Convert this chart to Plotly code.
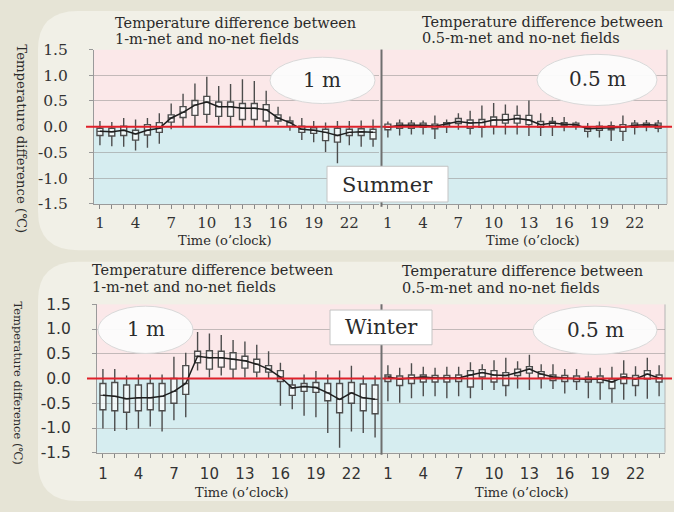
import plotly.graph_objects as go

W, H = 674, 512
hours = list(range(1, 25))
label_hours = [1, 4, 7, 10, 13, 16, 19, 22]
x_tick_text = [str(h) if h in label_hours else "" for h in hours]
y_tick_vals = [-1.5, -1.0, -0.5, 0.0, 0.5, 1.0, 1.5]
y_tick_text = ["-1.5", "-1.0", "-0.5", "0.0", "0.5", "1.0", "1.5"]

# Summer, 1-m net minus no-net
s1_high = [0.11, 0.09, 0.17, 0.14, 0.17, 0.26, 0.45, 0.64, 0.84, 0.97, 0.79, 0.83,
           0.92, 0.89, 0.70, 0.39, 0.20, 0.17, 0.11, 0.08, 0.11, 0.11, 0.12, 0.14]
s1_q3 = [-0.03, -0.03, 0.01, -0.07, 0.04, 0.08, 0.23, 0.39, 0.51, 0.59, 0.48, 0.48,
         0.45, 0.45, 0.43, 0.23, 0.11, 0.01, -0.02, -0.05, -0.03, -0.05, -0.04, -0.05]
s1_med = [-0.09, -0.10, -0.07, -0.14, -0.07, -0.03, 0.17, 0.28, 0.42, 0.48, 0.39, 0.39,
          0.36, 0.36, 0.33, 0.17, 0.08, -0.05, -0.07, -0.11, -0.17, -0.11, -0.10, -0.11]
s1_q1 = [-0.17, -0.18, -0.17, -0.26, -0.16, -0.11, 0.09, 0.18, 0.22, 0.24, 0.20, 0.20,
         0.14, 0.14, 0.11, 0.11, 0.01, -0.11, -0.13, -0.27, -0.30, -0.17, -0.17, -0.24]
s1_low = [-0.36, -0.38, -0.39, -0.46, -0.41, -0.33, -0.05, 0.01, 0.00, 0.07, 0.04, -0.02,
          0.01, 0.00, 0.00, 0.04, -0.08, -0.26, -0.30, -0.49, -0.71, -0.36, -0.39, -0.39]

# Summer, 0.5-m net minus no-net
s05_high = [0.10, 0.14, 0.13, 0.12, 0.22, 0.14, 0.26, 0.31, 0.41, 0.46, 0.43, 0.41,
            0.51, 0.26, 0.19, 0.19, 0.10, 0.07, 0.10, 0.10, 0.22, 0.13, 0.13, 0.13]
s05_q3 = [0.05, 0.07, 0.07, 0.07, 0.05, 0.08, 0.16, 0.13, 0.14, 0.19, 0.24, 0.22,
          0.22, 0.10, 0.10, 0.08, 0.07, -0.01, 0.01, 0.02, 0.04, 0.07, 0.07, 0.07]
s05_med = [-0.01, 0.03, 0.03, 0.03, 0.01, 0.05, 0.10, 0.07, 0.08, 0.13, 0.13, 0.16,
           0.13, 0.04, 0.07, 0.05, 0.04, -0.04, -0.03, -0.03, -0.01, 0.03, 0.04, 0.03]
s05_q1 = [-0.06, -0.03, -0.03, -0.01, -0.04, 0.01, 0.06, -0.03, -0.01, 0.01, 0.07, 0.07,
          0.04, -0.01, 0.01, 0.02, 0.01, -0.09, -0.07, -0.06, -0.09, -0.01, 0.01, -0.03]
s05_low = [-0.21, -0.17, -0.15, -0.15, -0.24, -0.12, -0.06, -0.15, -0.21, -0.15, -0.15, -0.15,
           -0.18, -0.18, -0.18, -0.09, -0.06, -0.21, -0.21, -0.28, -0.28, -0.15, -0.09, -0.11]

# Winter, 1-m net minus no-net
w1_high = [0.19, 0.19, 0.06, 0.08, 0.08, 0.08, 0.44, 0.52, 0.94, 0.91, 0.88, 0.78,
           0.75, 0.68, 0.55, 0.32, 0.00, 0.08, 0.15, 0.08, 0.16, 0.26, 0.06, 0.06]
w1_q3 = [-0.10, -0.08, -0.13, -0.13, -0.10, -0.10, 0.00, 0.26, 0.55, 0.56, 0.55, 0.52,
         0.45, 0.39, 0.26, 0.16, -0.13, -0.10, -0.08, -0.10, -0.10, -0.08, -0.11, -0.13]
w1_med = [-0.34, -0.36, -0.41, -0.39, -0.39, -0.36, -0.26, -0.10, 0.45, 0.42, 0.42, 0.39,
          0.36, 0.29, 0.19, 0.03, -0.19, -0.16, -0.18, -0.29, -0.42, -0.29, -0.39, -0.42]
w1_q1 = [-0.63, -0.65, -0.68, -0.65, -0.63, -0.65, -0.50, -0.32, 0.32, 0.19, 0.23, 0.19,
         0.21, 0.13, 0.13, -0.06, -0.34, -0.26, -0.28, -0.45, -0.69, -0.50, -0.65, -0.71]
w1_low = [-1.01, -1.06, -1.04, -1.01, -0.97, -1.07, -0.84, -0.78, 0.16, 0.02, 0.06, 0.00,
          0.02, 0.02, 0.00, -0.55, -0.62, -0.75, -0.78, -1.10, -1.40, -1.07, -1.10, -1.19]

# Winter, 0.5-m net minus no-net
w05_high = [0.27, 0.22, 0.31, 0.24, 0.22, 0.24, 0.24, 0.33, 0.29, 0.37, 0.42, 0.35,
            0.48, 0.29, 0.29, 0.19, 0.19, 0.14, 0.22, 0.24, 0.37, 0.25, 0.42, 0.27]
w05_q3 = [0.07, 0.05, 0.07, 0.07, 0.06, 0.06, 0.07, 0.16, 0.18, 0.16, 0.12, 0.19,
          0.24, 0.14, 0.07, 0.06, 0.05, 0.03, 0.05, -0.01, 0.09, 0.06, 0.16, 0.07]
w05_med = [0.03, -0.01, 0.01, 0.03, 0.01, 0.01, 0.01, 0.07, 0.12, 0.07, 0.06, 0.12,
           0.19, 0.09, 0.03, 0.01, -0.01, -0.02, -0.01, -0.07, 0.03, -0.01, 0.09, 0.01]
w05_q1 = [-0.06, -0.14, -0.10, -0.07, -0.07, -0.07, -0.06, -0.17, 0.03, -0.07, -0.14, 0.06,
          0.11, 0.01, -0.04, -0.06, -0.06, -0.07, -0.08, -0.20, -0.10, -0.14, -0.01, -0.07]
w05_low = [-0.46, -0.49, -0.40, -0.36, -0.36, -0.40, -0.36, -0.40, -0.23, -0.23, -0.36, -0.20,
           -0.23, -0.20, -0.21, -0.30, -0.23, -0.40, -0.43, -0.49, -0.43, -0.36, -0.41, -0.36]

panels = [
    ("x", "y", s1_low, s1_q1, s1_med, s1_q3, s1_high),
    ("x2", "y2", s05_low, s05_q1, s05_med, s05_q3, s05_high),
    ("x3", "y3", w1_low, w1_q1, w1_med, w1_q3, w1_high),
    ("x4", "y4", w05_low, w05_q1, w05_med, w05_q3, w05_high),
]


def X(px):
    return px / W


def Y(py):
    return 1 - py / H


fig = go.Figure()
for xa, ya, lo, q1, med, q3, hi in panels:
    fig.add_trace(go.Box(
        x=hours, lowerfence=lo, q1=q1, median=med, q3=q3, upperfence=hi,
        xaxis=xa, yaxis=ya, width=0.5, whiskerwidth=0,
        line=dict(color="#4d4d4d", width=1.4), fillcolor="rgba(252,252,252,0.7)",
        boxpoints=False, showlegend=False, hoverinfo="skip"))
    fig.add_trace(go.Scatter(
        x=hours, y=med, xaxis=xa, yaxis=ya, mode="lines",
        line=dict(color="#1e1e1e", width=1.5), showlegend=False, hoverinfo="skip"))

serif = "DejaVu Serif"
sans = "DejaVu Sans"
grid = "rgba(150,145,145,0.55)"

top_dom = [Y(202), Y(42)]
bot_dom = [Y(460), Y(306)]


def xaxis(dom, anchor, family, rng, standoff):
    return dict(domain=[X(dom[0]), X(dom[1])], anchor=anchor, range=rng,
                tickmode="array", tickvals=hours, ticktext=x_tick_text,
                ticks="outside", ticklen=4, tickcolor="#888", tickwidth=1,
                ticklabelstandoff=standoff,
                tickfont=dict(family=family, size=15, color="#333"),
                showline=True, linecolor="#9a9a9a", linewidth=1,
                showgrid=False, zeroline=False, fixedrange=True)


def yaxis(dom, anchor, labels, family):
    d = dict(domain=dom, anchor=anchor, range=[-1.5, 1.5],
             tickmode="array", tickvals=y_tick_vals, ticktext=y_tick_text,
             showgrid=True, gridcolor=grid, gridwidth=1, zeroline=False,
             fixedrange=True)
    if labels:
        d.update(ticks="outside", ticklen=4, tickcolor="#999", ticklabelstandoff=18,
                 tickfont=dict(family=family, size=15.5, color="#333"),
                 showline=True, linecolor="#9a9a9a", linewidth=1)
    else:
        d.update(showticklabels=False, ticks="")
    return d


fig.update_layout(
    width=W, height=H, margin=dict(l=0, r=0, t=0, b=0),
    paper_bgcolor="#e6e4d6", plot_bgcolor="rgba(0,0,0,0)",
    xaxis=xaxis([94, 379], "y", serif, [0.5, 24.5], 1),
    xaxis2=xaxis([382, 667], "y2", serif, [0.5, 24.75], 1),
    xaxis3=xaxis([97, 381], "y3", sans, [0.5, 24.5], 3),
    xaxis4=xaxis([382, 665], "y4", sans, [0.5, 24.5], 3),
    yaxis=yaxis(top_dom, "x", True, serif),
    yaxis2=yaxis(top_dom, "x2", False, serif),
    yaxis3=yaxis(bot_dom, "x3", True, sans),
    yaxis4=yaxis(bot_dom, "x4", False, sans),
)


def rounded(x0, y0, x1, y1, r):
    x0, x1 = X(x0), X(x1)
    y0, y1 = Y(y0), Y(y1)
    rx, ry = r / W, r / H
    return (f"M {x0+rx},{y0} L {x1},{y0} L {x1},{y1} L {x0+rx},{y1} "
            f"Q {x0},{y1} {x0},{y1+ry} L {x0},{y0-ry} Q {x0},{y0} {x0+rx},{y0} Z")


shapes = []
# light rounded panels
for (a, b) in [(2, 250), (262, 510)]:
    shapes.append(dict(type="path", xref="paper", yref="paper", path=rounded(38, a, 674, b, 40),
                       fillcolor="#f1f0e7", line=dict(width=0), layer="below"))
# pink/blue background bands
for ya, xl, xr in [("y", 94, 667), ("y3", 97, 665)]:
    shapes.append(dict(type="rect", xref="paper", yref=ya, x0=X(xl), x1=X(xr), y0=0, y1=1.5,
                       fillcolor="#fbe8e9", line=dict(width=0), layer="below"))
    shapes.append(dict(type="rect", xref="paper", yref=ya, x0=X(xl), x1=X(xr), y0=-1.5, y1=0,
                       fillcolor="#d6edf0", line=dict(width=0), layer="below"))
# right frame lines
for ya, xr in [("y", 667), ("y3", 665)]:
    shapes.append(dict(type="line", xref="paper", yref=ya, x0=X(xr), x1=X(xr), y0=-1.5, y1=1.5,
                       line=dict(color="#b5b5b5", width=1), layer="below"))
# zero red lines
for ya, xl in [("y", 86), ("y3", 87)]:
    shapes.append(dict(type="line", xref="paper", yref=ya, x0=X(xl), x1=X(672), y0=0, y1=0,
                       line=dict(color="#e0202a", width=2), layer="above"))
# dividers
for t, b in [(42, 205), (306, 462)]:
    shapes.append(dict(type="line", xref="paper", yref="paper", x0=X(381.5), x1=X(381.5),
                       y0=Y(t), y1=Y(b), line=dict(color="#6f6f6f", width=2), layer="above"))
# ellipses
for x0, y0, x1, y1 in [(270, 50, 375, 98), (537, 47, 657, 100), (98, 308, 193, 357), (533, 308, 657, 358)]:
    shapes.append(dict(type="circle", xref="paper", yref="paper", x0=X(x0), x1=X(x1),
                       y0=Y(y1), y1=Y(y0), fillcolor="rgba(252,252,252,0.95)",
                       line=dict(color="#d9d9d9", width=1), layer="above"))
# season boxes
for x0, y0, x1, y1 in [(327, 163, 448, 200), (330, 312, 432, 348)]:
    shapes.append(dict(type="rect", xref="paper", yref="paper", x0=X(x0), x1=X(x1),
                       y0=Y(y1), y1=Y(y0), fillcolor="#ffffff",
                       line=dict(color="#c4c4c4", width=1), layer="above"))
fig.update_layout(shapes=shapes)

ann = []


def text(s, px, py, size, family=serif, xanchor="center", angle=0, color="#2b2b2b"):
    ann.append(dict(text=s, x=X(px), y=Y(py), xref="paper", yref="paper", showarrow=False,
                    xanchor=xanchor, yanchor="middle", textangle=angle,
                    font=dict(family=family, size=size, color=color)))


title1 = "Temperature difference between"
tsize = 14.5
text(title1, 113, 14, tsize, xanchor="left")
text("1-m-net and no-net fields", 113, 31, tsize, xanchor="left")
text(title1, 420, 13, tsize, xanchor="left")
text("0.5-m-net and no-net fields", 420, 30, tsize, xanchor="left")
text(title1, 90, 271, tsize, xanchor="left")
text("1-m-net and no-net fields", 90, 288, tsize, xanchor="left")
text(title1, 400, 272, tsize, xanchor="left")
text("0.5-m-net and no-net fields", 400, 289, tsize, xanchor="left")

ylab = "Temperature difference (℃)"
text(ylab, 22, 134, 13.3, angle=90)
text(ylab, 18, 387, 11.5, angle=90)

xlab = "Time (o’clock)"
text(xlab, 225, 240, 13)
text(xlab, 533, 240, 13)
text(xlab, 242, 501, 13)
text(xlab, 522, 501, 13)

text("1 m", 322, 74, 20)
text("0.5 m", 597, 73, 20)
text("1 m", 146, 332, 20)
text("0.5 m", 595, 333, 20)
text("Summer", 387, 182, 21)
text("Winter", 381, 330, 21)

fig.update_layout(annotations=ann)
fig.write_html("out.html", config={"displayModeBar": False},
               post_script="document.body.style.margin='0';document.body.style.overflow='hidden';")
